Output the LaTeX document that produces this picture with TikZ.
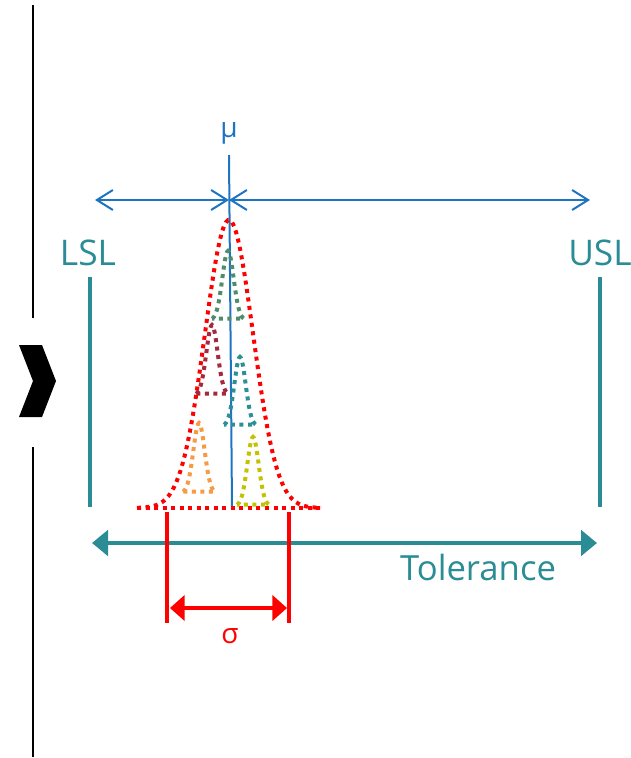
\documentclass[tikz,border=0pt]{standalone}
\usepackage{fontspec}
\setmainfont{Open Sans}
\usetikzlibrary{arrows.meta}
\definecolor{cblue}{HTML}{1F74C2}
\definecolor{cteal}{HTML}{2A8C94}
\definecolor{cred}{HTML}{FF0000}
\definecolor{cgreen}{HTML}{4F8C6C}
\definecolor{cmaroon}{HTML}{A5283C}
\definecolor{cteal2}{HTML}{2B8E99}
\definecolor{corange}{HTML}{F79A46}
\definecolor{cyellow}{HTML}{C2C200}
\tikzset{
  dotline/.style={line width=3pt, dash pattern=on 3pt off 3.4pt},
  blueline/.style={cblue, line width=1.5pt},
  bluearrow/.style={blueline, {Straight Barb[length=12pt,width=15pt]}-{Straight Barb[length=12pt,width=15pt]}},
  tealarrow/.style={cteal, line width=3pt, {Triangle[length=12pt,width=19pt]}-{Triangle[length=12pt,width=19pt]}},
  redarrow/.style={cred, line width=2.4pt, {Triangle[length=11pt,width=19pt]}-{Triangle[length=11pt,width=19pt]}},
  limitline/.style={cteal, line width=3pt},
  redline/.style={cred, line width=2.4pt},
  lbl/.style={inner sep=0pt, anchor=center}
}
\begin{document}
\begin{tikzpicture}[x=0.75pt,y=-0.75pt]
\useasboundingbox (0,0) rectangle (631,758);
% left separator
\coordinate (s1) at (33,5); \coordinate (s2) at (33,318);
\coordinate (s3) at (33,447); \coordinate (s4) at (33,757);
\draw[line width=1pt] (s1) -- (s2);
\draw[line width=1pt] (s3) -- (s4);
\fill (19,345) -- (42,345) -- (56,381) -- (42,417) -- (19,417) -- (33,381) -- cycle;
% mean
\node[lbl, text=cblue, font=\fontsize{21}{24}\selectfont] (mu) at (229,133) {μ};
\coordinate (mtop) at (229,155); \coordinate (mbot) at (232,507);
\draw[blueline] (mtop) -- (mbot);
\coordinate (bl) at (95,200); \coordinate (bm) at (229,200); \coordinate (br) at (590,200);
\draw[bluearrow] (bl) -- (bm);
\draw[bluearrow] (bm) -- (br);
% limits
\node[lbl, text=cteal, font=\fontsize{26.5}{32}\selectfont] (lsl) at (88,253) {LSL};
\node[lbl, text=cteal, font=\fontsize{26.5}{32}\selectfont] (usl) at (600,253) {USL};
\coordinate (l1) at (90,277); \coordinate (l2) at (90,507);
\coordinate (u1) at (600,277); \coordinate (u2) at (600,507);
\draw[limitline] (l1) -- (l2);
\draw[limitline] (u1) -- (u2);
\coordinate (tl) at (92,543); \coordinate (tr) at (597,543);
\draw[tealarrow] (tl) -- (tr);
\node[lbl, text=cteal, font=\fontsize{26}{30}\selectfont] (tol) at (478,567) {Tolerance};
% bell curve
\draw[dotline, cred] plot[domain=-92:92, samples=90] ({229+\x},{508-288*exp(0-(\x)*(\x)/1152)});
\draw[dotline, cred] (137,508) -- (323,508);
% small distributions
\foreach \px/\py/\by/\col in {228/251/320/cgreen, 212/325/395/cmaroon, 240/357/426/cteal2, 199/423/493/corange, 253/437/506/cyellow} {
  \draw[dotline, \col] plot[domain=-16:16, samples=33] ({\px+\x},{\by-(\by-\py)*exp(0-(\x)*(\x)/64)}) -- cycle;
}
% sigma
\coordinate (r1a) at (167,512); \coordinate (r1b) at (167,623);
\coordinate (r2a) at (289,512); \coordinate (r2b) at (289,623);
\draw[redline] (r1a) -- (r1b);
\draw[redline] (r2a) -- (r2b);
\coordinate (sa) at (170,608); \coordinate (sb) at (287,608);
\draw[redarrow] (sa) -- (sb);
\node[lbl, text=cred, font=\fontsize{21}{24}\selectfont] (sig) at (230,636) {σ};
\end{tikzpicture}
\end{document}
